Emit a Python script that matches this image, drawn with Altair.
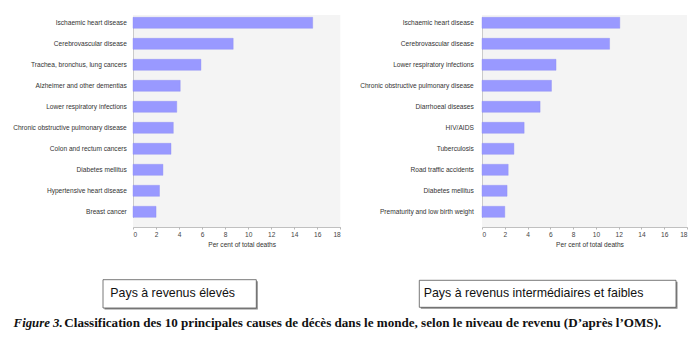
import altair as alt
import pandas as pd

high_causes = ["Ischaemic heart disease", "Cerebrovascular disease",
               "Trachea, bronchus, lung cancers", "Alzheimer and other dementias",
               "Lower respiratory infections", "Chronic obstructive pulmonary disease",
               "Colon and rectum cancers", "Diabetes mellitus",
               "Hypertensive heart disease", "Breast cancer"]
high_values = [15.6, 8.7, 5.9, 4.1, 3.8, 3.5, 3.3, 2.6, 2.3, 2.0]

low_causes = ["Ischaemic heart disease", "Cerebrovascular disease",
              "Lower respiratory infections", "Chronic obstructive pulmonary disease",
              "Diarrhoeal diseases", "HIV/AIDS", "Tuberculosis",
              "Road traffic accidents", "Diabetes mellitus",
              "Prematurity and low birth weight"]
low_values = [12.1, 11.2, 6.5, 6.1, 5.1, 3.7, 2.8, 2.3, 2.2, 2.0]

x_ticks = [0, 2, 4, 6, 8, 10, 12, 14, 16, 18]
x_title = "Per cent of total deaths"
box_high = "Pays à revenus élevés"
box_low = "Pays à revenus intermédiaires et faibles"
caption_lead = "Figure 3."
caption_rest = ("Classification des 10 principales causes de décès dans le monde, "
                "selon le niveau de revenu (D\u2019après l\u2019OMS).")

SANS = "Liberation Sans"
SERIF = "Liberation Serif"
H = 212


def bars(causes, values, w, label_pad):
    df = pd.DataFrame({"cause": causes, "pct": values})
    return alt.Chart(df).mark_bar(color="#9999ff", stroke="#8a8af2", strokeWidth=0.4).encode(
        x=alt.X("pct:Q",
                scale=alt.Scale(domain=[0, 18], nice=False),
                axis=alt.Axis(values=x_ticks, title=x_title, grid=False,
                              domainColor="#b0b0b0", domainWidth=0.8,
                              tickColor="#888", tickSize=2, tickWidth=0.6,
                              labelFont=SANS, labelFontSize=6.6, labelColor="#444",
                              labelPadding=2, titleFont=SANS, titleFontSize=6.6,
                              titleFontWeight="normal", titleColor="#333",
                              titlePadding=4, titleX=w / 2 + 5)),
        y=alt.Y("cause:N", sort=causes,
                scale=alt.Scale(range=[2.3, 202.3], paddingInner=0.476, paddingOuter=0),
                axis=alt.Axis(title=None, ticks=False, labelPadding=label_pad,
                              domainColor="#c0c0c0", domainWidth=0.8,
                              labelFont=SANS, labelFontSize=6.6, labelColor="#333",
                              labelLimit=200)),
        tooltip=["cause", "pct"],
    ).properties(width=w, height=H)


def box(label, x0, x1, y0, y1, tx, ty):
    d = pd.DataFrame({"label": [label]})
    base = alt.Chart(d)
    shadow = base.mark_rect(color="#8a8a8a").encode(
        x=alt.value(x0 + 1.5), x2=alt.value(x1 + 1.5),
        y=alt.value(y0 + 1.5), y2=alt.value(y1 + 1.5))
    frame = base.mark_rect(fill="white", stroke="#555", strokeWidth=0.8).encode(
        x=alt.value(x0), x2=alt.value(x1), y=alt.value(y0), y2=alt.value(y1))
    txt = base.mark_text(align="left", baseline="alphabetic", font=SANS,
                         fontSize=12.4, color="#111").encode(
        text="label:N", x=alt.value(tx), y=alt.value(ty))
    return shadow + frame + txt


anchor = alt.Chart(pd.DataFrame({"a": [0]})).mark_rule(opacity=0, strokeWidth=0.1).encode(
    x=alt.value(-132.7), x2=alt.value(-132.2), y=alt.value(-15), y2=alt.value(-14.5))

cap = pd.DataFrame({"lead": [caption_lead], "rest": [caption_rest]})
cap_lead = alt.Chart(cap).mark_text(align="left", baseline="alphabetic", font=SERIF,
                                    fontSize=12.8, fontStyle="italic", fontWeight="bold",
                                    color="#111").encode(
    text="lead:N", x=alt.value(13.3 - 132.7), y=alt.value(311.5))
cap_rest = alt.Chart(cap).mark_text(align="left", baseline="alphabetic", font=SERIF,
                                    fontSize=13.1, fontWeight="bold",
                                    color="#111").encode(
    text="rest:N", x=alt.value(64 - 132.7), y=alt.value(311.5))

left = alt.layer(
    bars(high_causes, high_values, 207.3, 6.7),
    box(box_high, -30, 123.3, 264.7, 293, -22.7, 282.3),
    cap_lead, cap_rest, anchor,
)
right = alt.layer(
    bars(low_causes, low_values, 205, 8.7),
    box(box_low, -62.7, 194, 265.3, 292.3, -58.3, 282.3),
)

chart = alt.hconcat(left, right, spacing=141, bounds="flush").properties(
    padding=0, background="white"
).configure_view(fill="#f4f4f4", stroke=None)

chart.save("out.html", embed_options={"renderer": "svg", "actions": False})
